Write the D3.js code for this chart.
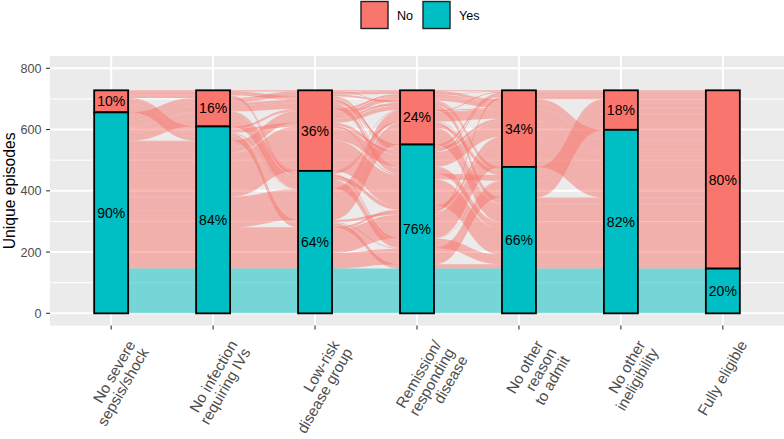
<!DOCTYPE html>
<html>
<head>
<meta charset="utf-8">
<script src="https://cdn.jsdelivr.net/npm/d3@7"></script>
<style>
  body { margin: 0; background: #fff; }
  text { font-family: "Liberation Sans", Arial, sans-serif; }
</style>
</head>
<body>
<svg id="plot" width="784" height="439"></svg>
<script>
// Axes of the alluvial plot (criteria), left to right
const axes = ['No severe\nsepsis/shock', 'No infection\nrequiring IVs', 'Low-risk\ndisease group',
              'Remission/\nresponding\ndisease', 'No other\nreason\nto admit', 'No other\nineligibility',
              'Fully eligible'];
const responses = ['No', 'Yes'];
// Answer pattern over the first six criteria (N = No, Y = Yes); the last axis is derived
const patterns = [
  'NNNYNY', 'NNNNNN', 'NNYYYY', 'NNNYYY', 'NNYNYY', 'NNNNYY',
  'NYYYYY', 'NYNYNY', 'NYNNNY', 'NYYYNY', 'NYNYYN', 'NYYNYY', 'NYNNYY', 'NYYYYN', 'NYYNNY',
  'YNYYYY', 'YNNYYY', 'YNNNNY', 'YNYYNY', 'YNNYNN', 'YNYNYY', 'YNNNYN', 'YNYNNY', 'YNNYNY',
  'YNYYYN', 'YNNNNN', 'YNYNYN',
  'YYNYNN', 'YYYYNN', 'YYYYNY', 'YYNYNY', 'YYNNNY', 'YYYNNY', 'YYYYYN', 'YYNYYN', 'YYYNYN',
  'YYNNYN', 'YYNYYY', 'YYYNYY', 'YYNNYY', 'YYNNNN', 'YYYNNN',
  'YYYYYY'
];
const episodes = [
  8, 2, 6, 5, 2, 2,
  14, 9, 5, 8, 4, 1, 2, 2, 2,
  25, 18, 9, 14, 8, 3, 5, 3, 3,
  2, 1, 2,
  5, 8, 76, 39, 15, 30, 51, 15, 12,
  7, 85, 55, 14, 2, 3,
  146
];
const yTicks = [0, 200, 400, 600, 800];
const yMinor = [100, 300, 500, 700];

const colors = {No: '#F8766D', Yes: '#00BFC4'};

function zigzag(n, i) {
  // guidance order: outward from i, starting toward the nearer end
  const out = [i];
  const left = i <= n - 1 - i;
  for (let d = 1; out.length < n; d++) {
    const cand = left ? [i - d, i + d] : [i + d, i - d];
    for (const c of cand)
      if (c >= 0 && c < n) out.push(c);
  }
  return out;
}

function draw() {
  const svg = d3.select('#plot');
  const panel = {left: 50, right: 784, top: 56, bottom: 325.6};
  const x = d3.scalePoint()
        .domain(d3.range(axes.length))
        .range([panel.left, panel.right])
        .padding(0.6);
  const y = d3.scaleLinear()
        .domain([-40, 840])
        .range([panel.bottom, panel.top]);
  const w = x.step() / 3;

  // alluvia with their value on every axis
  const alluvia = patterns.map((p, k) => {
    const vals = p.split('').map(c => c === 'Y' ? 'Yes' : 'No');
    vals.push(vals.every(v => v === 'Yes') ? 'Yes' : 'No');
    return {vals, n: episodes[k], top: [], bot: []};
  });
  const total = d3.sum(alluvia, a => a.n);

  // stack lodes at each axis
  axes.forEach((_, i) => {
    const guide = zigzag(axes.length, i);
    const order = alluvia.map((a, k) => k).sort((p, q) => {
      for (const g of guide) {
        const a = responses.indexOf(alluvia[p].vals[g]);
        const b = responses.indexOf(alluvia[q].vals[g]);
        if (a !== b) return a - b;
      }
      return p - q;
    });
    let cum = total;
    for (const k of order) {
      alluvia[k].top[i] = cum;
      cum -= alluvia[k].n;
      alluvia[k].bot[i] = cum;
    }
  });

  // panel background + grid
  svg.append('rect')
    .attr('x', panel.left).attr('y', panel.top)
    .attr('width', panel.right - panel.left).attr('height', panel.bottom - panel.top)
    .attr('fill', '#EBEBEB');
  const grid = svg.append('g');
  grid.selectAll('.minor').data(yMinor).enter().append('line')
    .attr('x1', panel.left).attr('x2', panel.right)
    .attr('y1', d => y(d)).attr('y2', d => y(d))
    .attr('stroke', '#fff').attr('stroke-width', 1);
  grid.selectAll('.major').data(yTicks).enter().append('line')
    .attr('x1', panel.left).attr('x2', panel.right)
    .attr('y1', d => y(d)).attr('y2', d => y(d))
    .attr('stroke', '#fff').attr('stroke-width', 2);
  grid.selectAll('.vmajor').data(d3.range(axes.length)).enter().append('line')
    .attr('y1', panel.top).attr('y2', panel.bottom)
    .attr('x1', d => x(d)).attr('x2', d => x(d))
    .attr('stroke', '#fff').attr('stroke-width', 2);

  // alluvium paths
  const k = 0.5;
  function alluviumPath(a) {
    const n = axes.length;
    let s = `M${x(0) - w / 2},${y(a.top[0])}`;
    for (let i = 0; i < n; i++) {
      const xr = x(i) + w / 2;
      s += `L${xr},${y(a.top[i])}`;
      if (i < n - 1) {
        const xl = x(i + 1) - w / 2;
        const g = (xl - xr) * k;
        s += `C${xr + g},${y(a.top[i])} ${xl - g},${y(a.top[i + 1])} ${xl},${y(a.top[i + 1])}`;
      }
    }
    for (let i = n - 1; i >= 0; i--) {
      const xl = x(i) - w / 2;
      s += `L${x(i) + w / 2},${y(a.bot[i])}L${xl},${y(a.bot[i])}`;
      if (i > 0) {
        const xr = x(i - 1) + w / 2;
        const g = (xl - xr) * k;
        s += `C${xl - g},${y(a.bot[i])} ${xr + g},${y(a.bot[i - 1])} ${xr},${y(a.bot[i - 1])}`;
      }
    }
    return s + 'Z';
  }
  svg.append('g')
    .selectAll('path')
    .data(alluvia)
    .enter().append('path')
    .attr('d', alluviumPath)
    .attr('fill', a => colors[a.vals[axes.length - 1]])
    .attr('fill-opacity', 0.5);

  // strata
  const strata = [];
  axes.forEach((_, i) => {
    const yes = d3.sum(alluvia.filter(a => a.vals[i] === 'Yes'), a => a.n);
    strata.push({i, r: 'No', y0: yes, y1: total, n: total - yes});
    strata.push({i, r: 'Yes', y0: 0, y1: yes, n: yes});
  });
  const st = svg.append('g');
  st.selectAll('rect').data(strata).enter().append('rect')
    .attr('x', d => x(d.i) - w / 2)
    .attr('width', w)
    .attr('y', d => y(d.y1))
    .attr('height', d => y(d.y0) - y(d.y1))
    .attr('fill', d => colors[d.r])
    .attr('stroke', '#000')
    .attr('stroke-width', 1.8);
  st.selectAll('text').data(strata).enter().append('text')
    .attr('x', d => x(d.i))
    .attr('y', d => y((d.y0 + d.y1) / 2))
    .attr('dy', '0.36em')
    .attr('text-anchor', 'middle')
    .attr('font-size', 14)
    .attr('fill', '#000')
    .text(d => Math.round(d.n / total * 100) + '%');

  // y axis
  const ya = svg.append('g');
  ya.selectAll('line').data(yTicks).enter().append('line')
    .attr('x1', panel.left - 3.9).attr('x2', panel.left)
    .attr('y1', d => y(d)).attr('y2', d => y(d))
    .attr('stroke', '#333').attr('stroke-width', 1.1);
  ya.selectAll('text').data(yTicks).enter().append('text')
    .attr('x', 41.5).attr('y', d => y(d)).attr('dy', '0.36em')
    .attr('text-anchor', 'end').attr('font-size', 12.6).attr('fill', '#4D4D4D')
    .text(d => d);
  svg.append('text')
    .attr('transform', `translate(15,${(panel.top + panel.bottom) / 2}) rotate(-90)`)
    .attr('text-anchor', 'middle').attr('font-size', 15.7).attr('fill', '#000')
    .text('Unique episodes');

  // x axis
  const xa = svg.append('g');
  xa.selectAll('line').data(d3.range(axes.length)).enter().append('line')
    .attr('x1', d => x(d)).attr('x2', d => x(d))
    .attr('y1', panel.bottom).attr('y2', panel.bottom + 3.9)
    .attr('stroke', '#333').attr('stroke-width', 1.1);
  const fs = 15.2;
  const lab = xa.selectAll('text').data(axes).enter().append('text')
    .attr('transform', (d, i) => `translate(${x(i) + 15},${panel.bottom + 13}) rotate(-60)`)
    .attr('text-anchor', 'end').attr('font-size', fs).attr('fill', '#4D4D4D');
  lab.each(function(d) {
    d.split('\n').forEach((line, j) => {
      d3.select(this).append('tspan')
        .attr('x', 0).attr('y', fs * 0.75 + j * fs * 1.0)
        .text(line);
    });
  });

  // legend
  const leg = svg.append('g');
  const legX = [361, 423];
  responses.forEach((r, i) => {
    leg.append('rect')
      .attr('x', legX[i]).attr('y', 1.5).attr('width', 27).attr('height', 27)
      .attr('fill', colors[r]).attr('stroke', '#222').attr('stroke-width', 1.4);
    leg.append('text')
      .attr('x', legX[i] + 36).attr('y', 15).attr('dy', '0.36em')
      .attr('font-size', 12.6).attr('fill', '#000')
      .text(r);
  });
}

draw();
</script>
</body>
</html>
